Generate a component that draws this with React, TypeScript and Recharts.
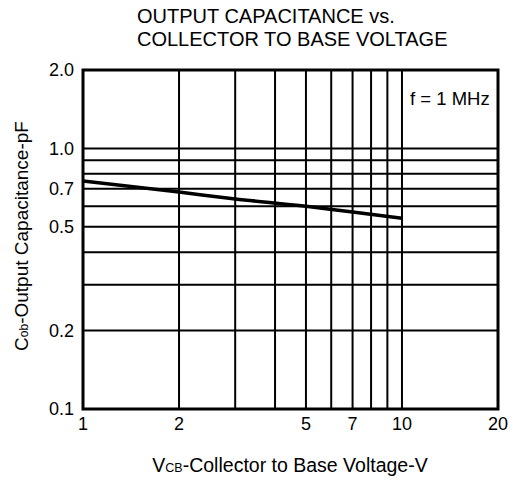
import { LineChart, Line, XAxis, YAxis, ReferenceLine, ReferenceArea, Label } from "recharts";

// Cob vs VCB, log-log
const vcb = [1, 2, 3, 5, 7, 10];
const cob = [0.75, 0.68, 0.64, 0.6, 0.57, 0.54];

const xTicks = [1, 2, 5, 7, 10, 20];
const yTicks = [0.1, 0.2, 0.5, 0.7, 1.0, 2.0];
const xGrid = [2, 3, 4, 5, 6, 7, 8, 9, 10];
const yGrid = [0.2, 0.3, 0.4, 0.5, 0.6, 0.7, 0.8, 0.9, 1.0];

const data = vcb.map((v, i) => ({ v, c: cob[i] }));

const font = "'Liberation Sans', Arial, sans-serif";

const YTitle = () => {
  const cx = 21;
  const cy = 236;
  return (
    <text x={cx} y={cy} transform={`rotate(-90 ${cx} ${cy})`} textAnchor="middle" fontSize={19} fill="#000" fontFamily={font} dominantBaseline="central">
      C<tspan fontSize={12} dy={3}>ob</tspan><tspan dy={-3}>-Output Capacitance-pF</tspan>
    </text>
  );
};

const XTitle = () => (
  <text x={290} y={472} textAnchor="middle" fontSize={19.5} fill="#000" fontFamily={font}>
    V<tspan fontSize={12.5}>CB</tspan>-Collector to Base Voltage-V
  </text>
);

export default function App() {
  return (
    <div style={{ position: "absolute", left: 0, top: 0, width: 514, height: 485, fontFamily: font }}>
      <div style={{ position: "absolute", left: 137, top: 5, fontSize: 20, lineHeight: "23px", color: "#000", whiteSpace: "nowrap" }}>
        OUTPUT CAPACITANCE vs.<br />COLLECTOR TO BASE VOLTAGE
      </div>
      <div style={{ position: "absolute", left: 410, top: 88, fontSize: 18.5, color: "#000", whiteSpace: "nowrap" }}>f = 1 MHz</div>
      <LineChart width={514} height={485} data={data} margin={{ top: 70, right: 16, bottom: 46, left: 0 }}>
        {xGrid.map((x) => (
          <ReferenceLine key={"x" + x} x={x} stroke="#000" strokeWidth={2} ifOverflow="hidden" />
        ))}
        {yGrid.map((y) => (
          <ReferenceLine key={"y" + y} y={y} stroke="#000" strokeWidth={2} ifOverflow="hidden" />
        ))}
        <ReferenceArea x1={1} x2={20} y1={0.1} y2={2} fill="none" stroke="#000" strokeWidth={3} />
        <XAxis
          dataKey="v"
          type="number"
          scale="log"
          domain={[1, 20]}
          ticks={xTicks}
          allowDataOverflow
          axisLine={false}
          tickLine={false}
          height={30}
          tick={{ fill: "#000", fontSize: 18, fontFamily: font }}
          tickMargin={2}
        >
          <Label content={<XTitle />} />
        </XAxis>
        <YAxis
          type="number"
          scale="log"
          domain={[0.1, 2]}
          ticks={yTicks}
          allowDataOverflow
          axisLine={false}
          tickLine={false}
          width={83}
          tick={{ fill: "#000", fontSize: 18, fontFamily: font }}
          tickMargin={3}
          tickFormatter={(v: number) => (v >= 1 ? v.toFixed(1) : String(v))}
        >
          <Label content={<YTitle />} />
        </YAxis>
        <Line dataKey="c" type="monotone" stroke="#000" strokeWidth={3.5} dot={false} isAnimationActive={false} />
      </LineChart>
    </div>
  );
}
